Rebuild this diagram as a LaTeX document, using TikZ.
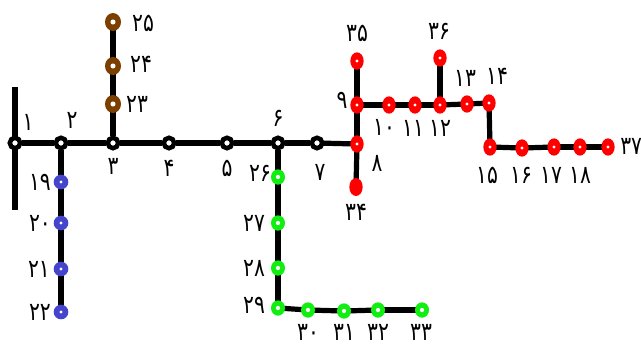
\documentclass[tikz,border=0pt]{standalone}
\usepackage{fontspec}
\newfontfamily\fa{DejaVu Sans}
\usetikzlibrary{shapes.geometric,backgrounds}
\definecolor{busred}{HTML}{FF0000}
\definecolor{busgreen}{HTML}{11EE11}
\definecolor{busblue}{HTML}{4444CC}
\definecolor{busbrown}{HTML}{7B3F00}
\newcommand{\fd}[1]{\scalebox{0.8}[1]{#1}}
\tikzset{
  edge/.style={line width=3.9pt},
  blk/.style={circle,draw=black,line width=3.4pt,fill=white,minimum size=7.8pt,inner sep=0pt},
  dotc/.style={path picture={\fill[white] (path picture bounding box.center) circle (#1);}},
  rednode/.style={ellipse,fill=busred,minimum width=10pt,minimum height=13pt,inner sep=0pt,dotc=1.2pt},
  redsolid/.style={ellipse,fill=busred,minimum width=10pt,minimum height=13.5pt,inner sep=0pt},
  bluenode/.style={circle,fill=busblue,minimum size=11pt,inner sep=0pt,dotc=1.2pt},
  greennode/.style={ellipse,fill=busgreen,minimum width=10.5pt,minimum height=11.5pt,inner sep=0pt,dotc=1.6pt},
  brownnode/.style={ellipse,fill=busbrown,minimum width=12pt,minimum height=13.5pt,inner sep=0pt,dotc=1.9pt},
  lab/.style={font=\fa\fontsize{19}{19}\selectfont,inner sep=0pt,text=black}
}
\begin{document}
\begin{tikzpicture}[x=0.75pt,y=-0.75pt]
\useasboundingbox (0,0) rectangle (641,347);
% main feeder
\node[blk] (n1) at (15,143) {};
\node[blk] (n2) at (61,143) {};
\node[blk] (n3) at (113,143) {};
\node[blk] (n4) at (169,143) {};
\node[blk] (n5) at (227,143) {};
\node[blk] (n6) at (278,143) {};
\node[blk] (n7) at (317,143) {};
\node[rednode] (n8) at (357,144) {};
\node[rednode] (n9) at (357,105) {};
\node[rednode] (n10) at (389,105) {};
\node[rednode] (n11) at (415,105) {};
\node[rednode] (n12) at (440,105) {};
\node[rednode] (n13) at (467,104) {};
\node[rednode] (n14) at (489,103) {};
\node[rednode] (n15) at (490,147) {};
\node[rednode] (n16) at (522,148) {};
\node[rednode] (n17) at (554,147) {};
\node[rednode] (n18) at (580,147) {};
\node[rednode] (n37) at (608,147) {};
\node[rednode] (n35) at (357,61) {};
\node[rednode] (n36) at (440,58) {};
\node[redsolid] (n34) at (356,187) {};
% blue lateral
\node[bluenode] (n19) at (61,182) {};
\node[bluenode] (n20) at (61,223) {};
\node[bluenode] (n21) at (61,269) {};
\node[bluenode] (n22) at (61,312) {};
% brown lateral
\node[brownnode] (n23) at (113,104) {};
\node[brownnode] (n24) at (113,66) {};
\node[brownnode] (n25) at (113,22) {};
% green lateral
\node[greennode] (n26) at (278,177) {};
\node[greennode] (n27) at (278,223) {};
\node[greennode] (n28) at (278,268) {};
\node[greennode] (n29) at (278,308) {};
\node[greennode] (n30) at (308,310) {};
\node[greennode] (n31) at (344,311) {};
\node[greennode] (n32) at (378,310) {};
\node[greennode] (n33) at (422,310) {};
\coordinate (bt) at (15,87);
\coordinate (bb) at (15,210);
\begin{scope}[on background layer]
\draw[line width=3.9pt] (bt) -- (bb);
\draw[edge] (n1) -- (n2);
\draw[edge] (n2) -- (n3);
\draw[edge] (n3) -- (n4);
\draw[edge] (n4) -- (n5);
\draw[edge] (n5) -- (n6);
\draw[edge] (n6) -- (n7);
\draw[edge] (n7.center) -- (n8.center);
\draw[edge] (n8.center) -- (n9.center);
\draw[edge] (n9.center) -- (n35.center);
\draw[edge] (n8.center) -- (n34.center);
\draw[edge] (n9.center) -- (n10.center);
\draw[edge] (n10.center) -- (n11.center);
\draw[edge] (n11.center) -- (n12.center);
\draw[edge] (n12.center) -- (n13.center);
\draw[edge] (n13.center) -- (n14.center);
\draw[edge] (n12.center) -- (n36.center);
\draw[edge] (n14.center) -- (n15.center);
\draw[edge] (n15.center) -- (n16.center);
\draw[edge] (n16.center) -- (n17.center);
\draw[edge] (n17.center) -- (n18.center);
\draw[edge] (n18.center) -- (n37.center);
\draw[edge] (n2) -- (n19.center);
\draw[edge] (n19.center) -- (n20.center);
\draw[edge] (n20.center) -- (n21.center);
\draw[edge] (n21.center) -- (n22.center);
\draw[edge] (n3) -- (n23.center);
\draw[edge] (n23.center) -- (n24.center);
\draw[edge] (n24.center) -- (n25.center);
\draw[edge] (n6) -- (n26.center);
\draw[edge] (n26.center) -- (n27.center);
\draw[edge] (n27.center) -- (n28.center);
\draw[edge] (n28.center) -- (n29.center);
\draw[edge] (n29.center) -- (n30.center);
\draw[edge] (n30.center) -- (n31.center);
\draw[edge] (n31.center) -- (n32.center);
\draw[edge] (n32.center) -- (n33.center);
\end{scope}
% labels
\node[lab] (l1) at (28,122) {\fd{۱}};
\node[lab] (l2) at (72,120) {\fd{۲}};
\node[lab] (l3) at (113,166) {\fd{۳}};
\node[lab] (l4) at (169,168) {\fd{۴}};
\node[lab] (l5) at (227,168) {\fd{۵}};
\node[lab] (l6) at (278,118) {\fd{۶}};
\node[lab] (l7) at (320,172) {\fd{۷}};
\node[lab] (l8) at (377,163) {\fd{۸}};
\node[lab] (l9) at (342,100) {\fd{۹}};
\node[lab] (l10) at (384,127) {\fd{۱۰}};
\node[lab] (l11) at (413,128) {\fd{۱۱}};
\node[lab] (l12) at (440,128) {\fd{۱۲}};
\node[lab] (l13) at (465,78) {\fd{۱۳}};
\node[lab] (l14) at (497,76) {\fd{۱۴}};
\node[lab] (l15) at (487,175) {\fd{۱۵}};
\node[lab] (l16) at (521,175) {\fd{۱۶}};
\node[lab] (l17) at (551,175) {\fd{۱۷}};
\node[lab] (l18) at (580,175) {\fd{۱۸}};
\node[lab,anchor=west] (l37) at (620,146) {\fd{۳۷}};
\node[lab] (l35) at (357,33) {\fd{۳۵}};
\node[lab] (l36) at (439,31) {\fd{۳۶}};
\node[lab] (l34) at (356,212) {\fd{۳۴}};
\node[lab] (l19) at (40,182) {\fd{۱۹}};
\node[lab] (l20) at (40,223) {\fd{۲۰}};
\node[lab] (l21) at (39,269) {\fd{۲۱}};
\node[lab] (l22) at (40,312) {\fd{۲۲}};
\node[lab] (l23) at (137,104) {\fd{۲۳}};
\node[lab] (l24) at (141,64) {\fd{۲۴}};
\node[lab] (l25) at (143,23) {\fd{۲۵}};
\node[lab] (l26) at (260,173) {\fd{۲۶}};
\node[lab] (l27) at (254,223) {\fd{۲۷}};
\node[lab] (l28) at (254,268) {\fd{۲۸}};
\node[lab] (l29) at (254,305) {\fd{۲۹}};
\node[lab] (l30) at (308,332) {\fd{۳۰}};
\node[lab] (l31) at (344,332) {\fd{۳۱}};
\node[lab] (l32) at (378,332) {\fd{۳۲}};
\node[lab] (l33) at (421,332) {\fd{۳۳}};
\end{tikzpicture}
\end{document}
